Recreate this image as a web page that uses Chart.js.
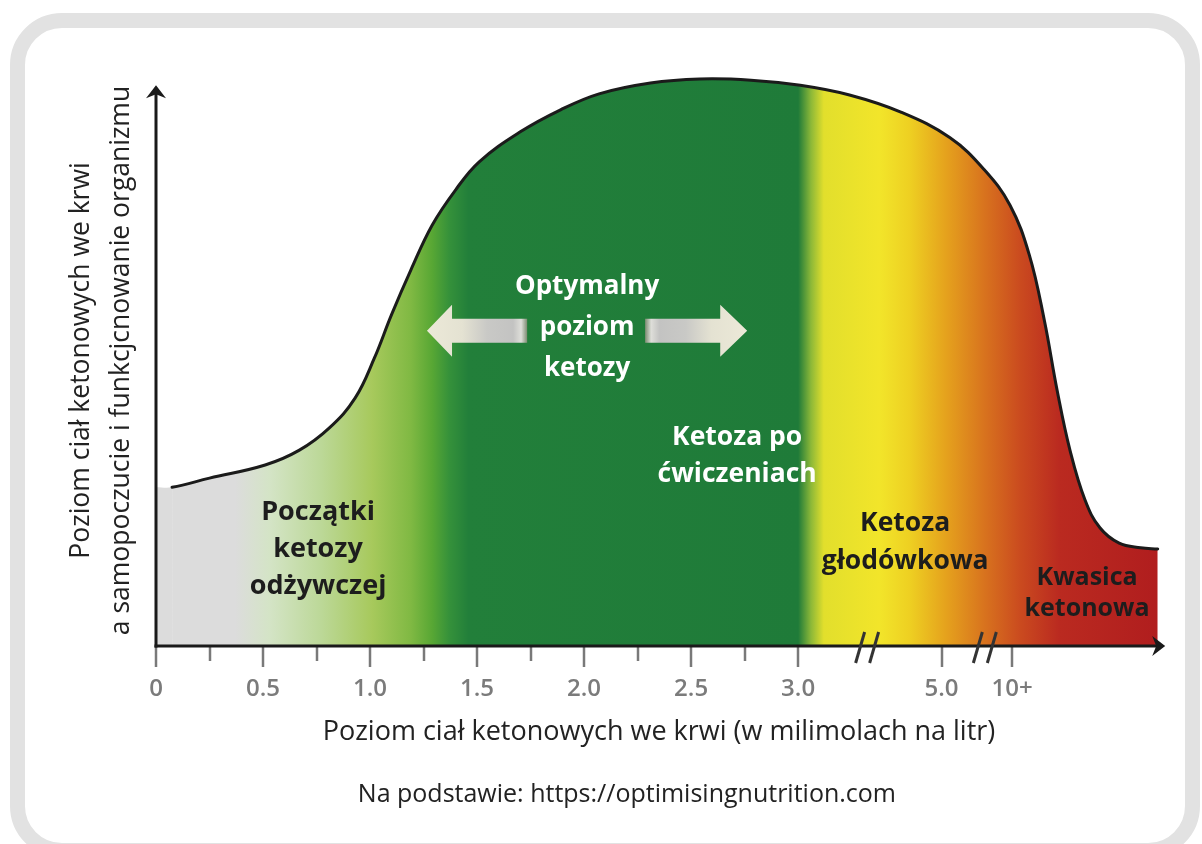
<!DOCTYPE html>
<html lang="pl">
<head>
<meta charset="utf-8">
<title>Poziom ketozy</title>
<script src="https://cdn.jsdelivr.net/npm/chart.js@4.4.1/dist/chart.umd.min.js"></script>
<style>
  html, body { margin: 0; padding: 0; background: #fff; }
  #wrap { position: relative; width: 1202px; height: 844px; overflow: hidden; }
  #frame { position: absolute; left: 10px; top: 13px; width: 1190px; height: 845px;
           box-sizing: border-box; border: 15px solid #e2e2e2; border-radius: 52px; }
  #ketoChart { position: absolute; left: 0; top: 0; }
</style>
</head>
<body>
<div id="wrap">
  <div id="frame"></div>
  <canvas id="ketoChart" width="1202" height="844"></canvas>
</div>
<script>
Chart.defaults.font.family = '"Open Sans", "Noto Sans", sans-serif';
Chart.defaults.color = '#222';

// curve: x = place on the (broken) axis, y = relative level 0..100
const curveX = [0, 0.075, 0.25, 0.51, 0.67, 0.81, 0.93, 1.02, 1.10, 1.19, 1.29, 1.40, 1.51, 1.70, 1.89, 2.07, 2.31, 2.54, 2.78, 3.01, 3.24, 3.48, 3.71, 3.87, 3.99, 4.08, 4.15, 4.21, 4.27, 4.34, 4.41, 4.50, 4.60, 4.68];
const curveY = [27.8, 27.8, 29.4, 31.7, 34.3, 38.2, 43.4, 50.4, 58.0, 65.8, 73.7, 79.9, 84.8, 90.0, 93.9, 96.7, 98.6, 99.3, 99.1, 98.2, 96.5, 93.5, 89.0, 83.4, 77.2, 68.5, 57.1, 44.8, 34.3, 25.6, 20.7, 18.0, 17.2, 17.0];

// axis: 0..3.0 is linear, then broken for 5.0 and 10+
const tickValues = [0, 0.5, 1.0, 1.5, 2.0, 2.5, 3.0, 3.67, 4.0];
const tickLabels = ['0', '0.5', '1.0', '1.5', '2.0', '2.5', '3.0', '5.0', '10+'];
const minorTicks = [0.25, 0.75, 1.25, 1.75, 2.25, 2.75];
const axisBreaks = [3.32, 3.87];

const zoneNames = [
  ['Początki', 'ketozy', 'odżywczej'],
  ['Optymalny', 'poziom', 'ketozy'],
  ['Ketoza po', 'ćwiczeniach'],
  ['Ketoza', 'głodówkowa'],
  ['Kwasica', 'ketonowa']
];

const xTitle = 'Poziom ciał ketonowych we krwi (w milimolach na litr)';
const yTitle = ['Poziom ciał ketonowych we krwi', 'a samopoczucie i funkcjcnowanie organizmu'];
const sourceText = 'Na podstawie: https://optimisingnutrition.com';

// placement / look of the zone labels (axis units, line pitch in px)
const zoneStyle = [
  { x: 0.757, y: 23.5, pitch: 37, size: 27, color: '#1d1d1d' },
  { x: 2.014, y: 62.9, pitch: 41, size: 26, color: '#ffffff' },
  { x: 2.715, y: 36.6, pitch: 37, size: 26.5, color: '#ffffff' },
  { x: 3.50,  y: 21.5, pitch: 38, size: 26.5, color: '#1d1d1d' },
  { x: 4.35,  y: 11.9, pitch: 31, size: 25, color: '#1d1d1d' }
];

// colour band along the x axis
const fillStops = [
  [0.00, '#dcdcdc'], [0.37, '#dcdcdc'], [0.53, '#d4e4c6'], [0.77, '#bcd898'],
  [1.01, '#a7c95c'], [1.19, '#80b943'], [1.29, '#58a734'], [1.37, '#35913a'],
  [1.46, '#227f3a'], [3.00, '#1f7b39'], [3.06, '#8cb838'], [3.12, '#e2df2c'],
  [3.38, '#f2e52a'], [3.52, '#eed022'], [3.69, '#e5a21d'], [3.87, '#d8731e'],
  [4.04, '#ca4a1f'], [4.22, '#ba2a20'], [4.70, '#b01d1e']
];

function bandGradient(context) {
  const chart = context.chart;
  const x = chart.scales.x;
  if (!chart.chartArea || !x) return '#1f7b39';
  const a = x.getPixelForValue(0), b = x.getPixelForValue(4.7);
  const g = chart.ctx.createLinearGradient(a, 0, b, 0);
  fillStops.forEach(([v, c]) => g.addColorStop(Math.min(1, Math.max(0, (x.getPixelForValue(v) - a) / (b - a))), c));
  return g;
}

function line(ctx, x1, y1, x2, y2) {
  ctx.beginPath(); ctx.moveTo(x1, y1); ctx.lineTo(x2, y2); ctx.stroke();
}

function bigArrow(ctx, tip, base, end, cy) {
  const g = ctx.createLinearGradient(tip, 0, end, 0);
  g.addColorStop(0, '#ece9d8');
  g.addColorStop(0.35, '#e4e2d2');
  g.addColorStop(0.6, '#c9c9c6');
  g.addColorStop(0.86, '#c3c3c2');
  g.addColorStop(0.94, '#deded9');
  g.addColorStop(1, '#7d8c72');
  ctx.fillStyle = g;
  ctx.beginPath();
  ctx.moveTo(tip, cy);
  ctx.lineTo(base, cy - 26);
  ctx.lineTo(base, cy - 12);
  ctx.lineTo(end, cy - 12);
  ctx.lineTo(end, cy + 12);
  ctx.lineTo(base, cy + 12);
  ctx.lineTo(base, cy + 26);
  ctx.closePath();
  ctx.fill();
}

const decor = {
  id: 'decor',
  afterDatasetsDraw(chart) {
    const { ctx, scales: { x, y } } = chart;
    const x0 = x.getPixelForValue(0);
    const yb = y.getPixelForValue(0);
    ctx.save();

    // zone labels
    ctx.textAlign = 'center';
    ctx.textBaseline = 'middle';
    zoneNames.forEach((lines, i) => {
      const s = zoneStyle[i];
      const px = x.getPixelForValue(s.x);
      const py = y.getPixelForValue(s.y);
      ctx.font = 'bold ' + s.size + 'px "Open Sans", sans-serif';
      ctx.fillStyle = s.color;
      lines.forEach((t, k) => ctx.fillText(t, px, py + k * s.pitch));
    });

    // double arrow around "Optymalny poziom ketozy"
    const cy = y.getPixelForValue(55.2);
    bigArrow(ctx, x.getPixelForValue(1.266), x.getPixelForValue(1.383), x.getPixelForValue(1.734), cy);
    bigArrow(ctx, x.getPixelForValue(2.762), x.getPixelForValue(2.636), x.getPixelForValue(2.285), cy);

    // tick marks
    ctx.strokeStyle = '#797979';
    ctx.lineWidth = 2.5;
    tickValues.forEach(v => { const p = Math.round(x.getPixelForValue(v)); line(ctx, p, yb, p, yb + 21); });
    minorTicks.forEach(v => { const p = Math.round(x.getPixelForValue(v)); line(ctx, p, yb, p, yb + 15); });

    // axes
    ctx.strokeStyle = '#1a1a1a';
    ctx.fillStyle = '#1a1a1a';
    ctx.lineWidth = 3;
    const yTop = y.getPixelForValue(98.2);
    const xEnd = x.getPixelForValue(4.715);
    line(ctx, x0, yb + 1.5, x0, yTop + 4);
    line(ctx, x0 - 1.5, yb, xEnd - 4, yb);
    ctx.beginPath();
    ctx.moveTo(x0, yTop); ctx.lineTo(x0 + 10, yTop + 13); ctx.lineTo(x0, yTop + 9); ctx.lineTo(x0 - 10, yTop + 13);
    ctx.closePath(); ctx.fill();
    ctx.beginPath();
    ctx.moveTo(xEnd, yb); ctx.lineTo(xEnd - 13, yb - 10); ctx.lineTo(xEnd - 9, yb); ctx.lineTo(xEnd - 13, yb + 10);
    ctx.closePath(); ctx.fill();

    // axis breaks
    ctx.strokeStyle = '#333';
    ctx.lineWidth = 3;
    axisBreaks.forEach(v => {
      const c = x.getPixelForValue(v);
      line(ctx, c - 11, yb + 17, c - 2, yb - 14);
      line(ctx, c + 3, yb + 17, c + 12, yb - 14);
    });
    ctx.restore();
  },
  afterDraw(chart) {
    // source line under the axis title
    const { ctx, scales: { x } } = chart;
    ctx.save();
    ctx.font = '25px "Open Sans", sans-serif';
    ctx.fillStyle = '#222';
    ctx.textAlign = 'center';
    ctx.textBaseline = 'middle';
    ctx.fillText(sourceText, x.getPixelForValue(2.2), x.bottom + 39);
    ctx.restore();
  }
};

new Chart(document.getElementById('ketoChart'), {
  type: 'line',
  data: {
    datasets: [{
      data: curveX.map((v, i) => ({ x: v, y: curveY[i] })),
      borderColor: '#1b1b1b',
      borderWidth: 3,
      borderCapStyle: 'round',
      backgroundColor: bandGradient,
      fill: 'origin',
      pointRadius: 0,
      tension: 0.4,
      clip: false,
      segment: { borderColor: c => c.p0DataIndex === 0 ? 'rgba(0,0,0,0)' : undefined }
    }]
  },
  options: {
    responsive: false,
    animation: false,
    events: [],
    layout: { padding: { left: 46, right: 40, top: 75, bottom: 88 } },
    plugins: {
      legend: { display: false },
      tooltip: { enabled: false },
      title: { display: false }
    },
    scales: {
      x: {
        type: 'linear', min: 0, max: 4.7, bounds: 'data',
        grid: { display: false, drawTicks: false },
        border: { display: false },
        afterBuildTicks: s => { s.ticks = tickValues.map(v => ({ value: v })); },
        afterFit: s => { s.height = 110; },
        ticks: {
          autoSkip: false, maxRotation: 0, padding: 29, color: '#7b7b7b',
          font: { size: 24, weight: '600' },
          callback: (v, i) => tickLabels[i]
        },
        title: { display: true, text: xTitle, color: '#222', font: { size: 27 }, padding: { top: 0, bottom: 7 } }
      },
      y: {
        min: 0, max: 100,
        grid: { display: false, drawTicks: false },
        border: { display: false },
        ticks: { display: false },
        afterFit: s => { s.width = 110; },
        title: { display: true, text: yTitle, color: '#222', font: { size: 26.5, lineHeight: '40px' }, padding: { top: 15, bottom: 0 } }
      }
    }
  },
  plugins: [decor]
});
</script>
</body>
</html>
